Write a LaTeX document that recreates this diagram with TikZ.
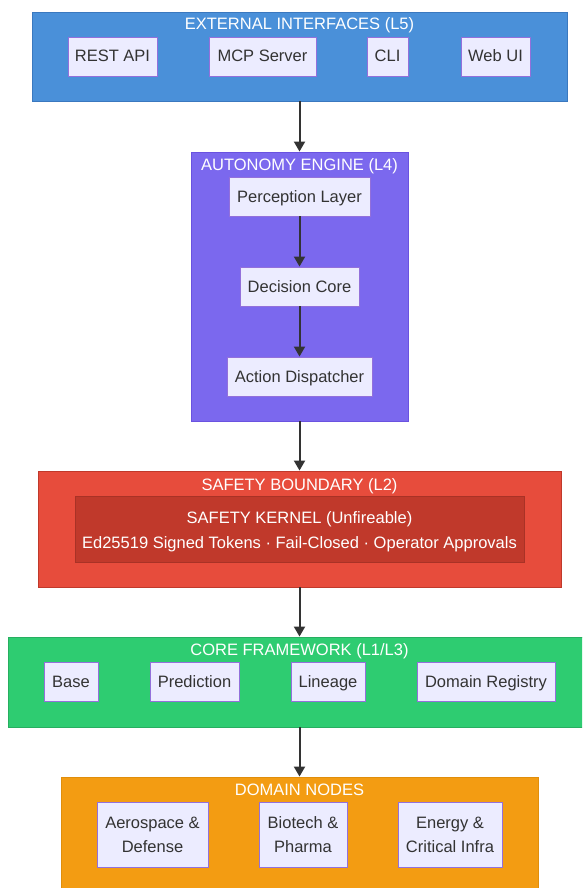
\documentclass[tikz,border=0pt]{standalone}
\usepackage{fontspec}
\setmainfont{Liberation Sans}
\usetikzlibrary{arrows.meta}
\definecolor{extc}{HTML}{4A90D9}
\definecolor{extd}{HTML}{3A78BF}
\definecolor{autc}{HTML}{7B68EE}
\definecolor{autd}{HTML}{6A52E0}
\definecolor{safc}{HTML}{E74C3C}
\definecolor{safd}{HTML}{C0392B}
\definecolor{kerc}{HTML}{C0392B}
\definecolor{kerd}{HTML}{A93226}
\definecolor{corc}{HTML}{2ECC71}
\definecolor{cord}{HTML}{27AE60}
\definecolor{domc}{HTML}{F39C12}
\definecolor{domd}{HTML}{E08E0B}
\definecolor{nodefill}{HTML}{ECECFF}
\definecolor{nodedraw}{HTML}{9370DB}
\definecolor{txt}{HTML}{333333}
\tikzset{
  box/.style={draw=nodedraw, fill=nodefill, line width=0.9pt, inner sep=0pt,
    text=txt, font=\fontsize{16.5}{20}\selectfont, align=center},
  one/.style={box, text height=14.5pt, text depth=3.5pt, minimum height=39pt},
  two/.style={box, minimum height=65pt},
  container/.style={line width=0.9pt, inner sep=0pt},
  ttl/.style={text=white, font=\fontsize{16.5}{20}\selectfont, inner sep=0pt, text height=14.5pt, text depth=3.5pt},
  arr/.style={draw=txt, line width=2pt, -{Triangle[length=10pt,width=11pt]}}
}
\begin{document}
\begin{tikzpicture}[x=1pt,y=-1pt]
\clip (0,0) rectangle (582,888);
\fill[white] (0,0) rectangle (582,888);
% External interfaces
\node[container, draw=extd, fill=extc, minimum width=535pt, minimum height=89pt] (ext) at (299.5,56.5) {};
\node[ttl] (extt) at (299.5,24.5) {EXTERNAL INTERFACES (L5)};
\node[one, minimum width=89pt] (rest) at (112.5,56.5) {REST API};
\node[one, minimum width=107pt] (mcp) at (262.5,56.5) {MCP Server};
\node[one, minimum width=41pt] (cli) at (387.5,56.5) {CLI};
\node[one, minimum width=69pt] (web) at (495.5,56.5) {Web UI};
% Autonomy engine
\node[container, draw=autd, fill=autc, minimum width=217pt, minimum height=269pt] (aut) at (299.5,286.5) {};
\node[ttl] (autt) at (299.5,164.5) {AUTONOMY ENGINE (L4)};
\node[one, minimum width=141pt] (perc) at (299.5,196.5) {Perception Layer};
\node[one, minimum width=119pt] (dec) at (299.5,286.5) {Decision Core};
\node[one, minimum width=145pt] (act) at (299.5,376.5) {Action Dispatcher};
% Safety boundary
\node[container, draw=safd, fill=safc, minimum width=523pt, minimum height=116pt] (saf) at (299.5,529) {};
\node[ttl] (saft) at (299.5,484.5) {SAFETY BOUNDARY (L2)};
\node[container, draw=kerd, fill=kerc, minimum width=449pt, minimum height=66pt] (ker) at (299.5,529) {};
\node[ttl] (kert) at (299.5,517.5) {SAFETY KERNEL (Unfireable)};
\node[ttl] (kerl) at (299.5,543) {Ed25519 Signed Tokens · Fail-Closed · Operator Approvals};
% Core framework
\node[container, draw=cord, fill=corc, minimum width=583pt, minimum height=90pt] (core) at (299.5,682) {};
\node[ttl] (coret) at (299.5,649.5) {CORE FRAMEWORK (L1/L3)};
\node[one, minimum width=54pt] (base) at (71,681.5) {Base};
\node[one, minimum width=89pt] (pred) at (194.5,681.5) {Prediction};
\node[one, minimum width=74pt] (lin) at (328,681.5) {Lineage};
\node[one, minimum width=138pt] (reg) at (486,681.5) {Domain Registry};
% Domain nodes
\node[container, draw=domd, fill=domc, minimum width=477pt, minimum height=115pt] (dom) at (299.5,834.5) {};
\node[ttl] (domt) at (299.5,789.5) {DOMAIN NODES};
\node[two, minimum width=111pt] (aero) at (152.5,834.5) {Aerospace \&\\[4pt]Defense};
\node[two, minimum width=88pt] (bio) at (303,834.5) {Biotech \&\\[4pt]Pharma};
\node[two, minimum width=104pt] (ener) at (450,834.5) {Energy \&\\[4pt]Critical Infra};
% Connectors
\draw[arr] (ext.south) -- (aut.north);
\draw[arr] (perc.south) -- (dec.north);
\draw[arr] (dec.south) -- (act.north);
\draw[arr] (aut.south) -- (saf.north);
\draw[arr] (saf.south) -- (core.north);
\draw[arr] (core.south) -- (dom.north);
\end{tikzpicture}
\end{document}
